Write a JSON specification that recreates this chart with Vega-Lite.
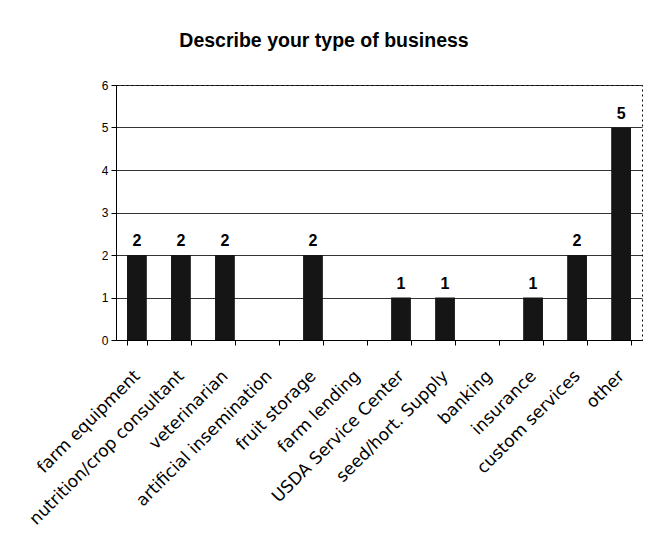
{
  "$schema": "https://vega.github.io/schema/vega-lite/v6.json",
  "autosize": "none",
  "width": 526,
  "height": 255,
  "padding": {"left": 116, "top": 85, "right": 8, "bottom": 210},
  "background": "white",
  "title": {
    "text": "Describe your type of business",
    "font": "Liberation Sans",
    "fontSize": 19.5,
    "fontWeight": "bold",
    "color": "black",
    "anchor": "middle",
    "dx": -55,
    "offset": 28
  },
  "data": {
    "values": [
      {"category": "farm equipment", "count": 2},
      {"category": "nutrition/crop consultant", "count": 2},
      {"category": "veterinarian", "count": 2},
      {"category": "artificial insemination", "count": 0},
      {"category": "fruit storage", "count": 2},
      {"category": "farm lending", "count": 0},
      {"category": "USDA Service Center", "count": 1},
      {"category": "seed/hort. Supply", "count": 1},
      {"category": "banking", "count": 0},
      {"category": "insurance", "count": 1},
      {"category": "custom services", "count": 2},
      {"category": "other", "count": 5}
    ]
  },
  "encoding": {
    "x": {
      "field": "category",
      "type": "nominal",
      "sort": null,
      "title": null,
      "scale": {"paddingInner": 0.55, "paddingOuter": 0.25},
      "axis": {
        "labelAngle": -45,
        "labelAlign": "right",
        "labelBaseline": "middle",
        "labelFont": "DejaVu Sans",
        "labelFontSize": 17,
        "labelColor": "black",
        "labelPadding": 28,
        "labelLimit": 300,
        "domainColor": "black",
        "tickColor": "black",
        "tickBand": "extent",
        "tickSize": 5,
        "grid": false
      }
    },
    "y": {
      "field": "count",
      "type": "quantitative",
      "title": null,
      "scale": {"domain": [0, 6], "nice": false},
      "axis": {
        "values": [0, 1, 2, 3, 4, 5, 6],
        "labelFont": "Liberation Sans",
        "labelFontSize": 12,
        "labelColor": "black",
        "domainColor": "black",
        "tickColor": "black",
        "tickSize": 5,
        "gridColor": "black",
        "gridOpacity": 0.8,
        "labelPadding": 3
      }
    }
  },
  "layer": [
    {
      "mark": {"type": "bar", "color": "#151515"}
    },
    {
      "transform": [{"filter": "datum.count > 0"}],
      "mark": {
        "type": "text",
        "dy": -14,
        "font": "Liberation Sans",
        "fontSize": 16,
        "fontWeight": "bold",
        "color": "black"
      },
      "encoding": {"text": {"field": "count", "type": "quantitative"}}
    }
  ],
  "config": {
    "view": {"stroke": "black", "strokeDash": [2, 3], "strokeWidth": 1}
  }
}
